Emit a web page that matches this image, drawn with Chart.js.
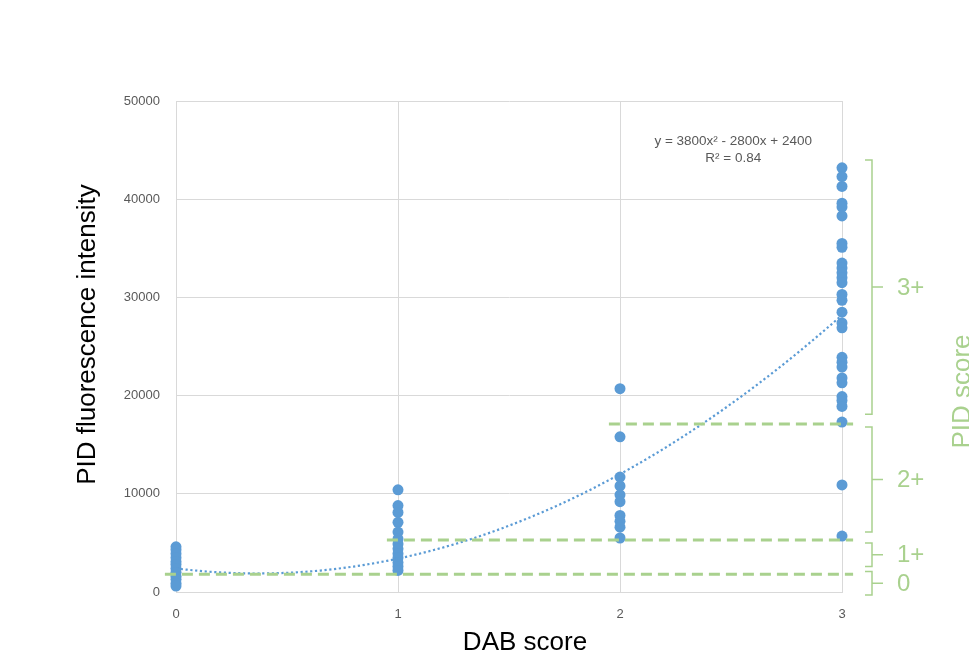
<!DOCTYPE html>
<html>
<head>
<meta charset="utf-8">
<script src="https://cdn.jsdelivr.net/npm/chart.js@4.4.1/dist/chart.umd.min.js"></script>
<style>
  html, body { margin: 0; padding: 0; background: #ffffff; }
  canvas { display: block; }
</style>
</head>
<body>
<canvas id="chart" width="969" height="660"></canvas>
<script>
// DAB score categories on the x axis
const dabScores = [0, 1, 2, 3];
const xTickLabels = ['0', '1', '2', '3'];
const yTickStep = 10000;
const yMax = 50000;

// PID fluorescence intensity measured for each DAB score
const intensityDab0 = [4600, 4300, 3900, 3500, 3100, 2800, 2400, 2000, 1600, 1300, 900, 600];
const intensityDab1 = [10400, 8800, 8100, 7100, 6100, 5400, 4900, 4400, 3900, 3500, 3000, 2600, 2200];
const intensityDab2 = [20700, 15800, 11700, 10800, 9900, 9200, 7800, 7200, 6600, 5500];
const intensityDab3 = [43200, 42300, 41300, 39600, 39200, 38300, 35500, 35100, 33500, 33000,
                       32500, 32000, 31500, 30300, 29700, 28500, 27400, 26900, 23900, 23400,
                       22900, 21800, 21300, 19900, 19500, 18900, 17300, 10900, 5700];

// Quadratic trendline y = a*x^2 + b*x + c
const trendCoefficients = [3800, -2800, 2400];
const rSquared = 0.84;

// PID score cut-offs (dashed lines) and the DAB score where each line starts
const pidThresholds = [1800, 5300, 17100];
const thresholdStartDab = [0, 1, 2];

// PID score bands shown as brackets on the right
const pidScoreLabels = ['0', '1+', '2+', '3+'];
const pidBandLow = [-300, 2600, 6100, 18100];
const pidBandHigh = [2100, 5000, 16800, 44000];

const BLUE = '#5B9BD5';
const GREEN = '#A9D18E';
const GREY_TEXT = '#595959';
const GRID = '#D9D9D9';
const FONT = '"Liberation Sans", Arial, sans-serif';

const intensityGroups = [intensityDab0, intensityDab1, intensityDab2, intensityDab3];
const scatterPoints = [];
intensityGroups.forEach((group, i) => {
  group.forEach(v => scatterPoints.push({ x: dabScores[i], y: v }));
});

const [qa, qb, qc] = trendCoefficients;
const trendPoints = [];
for (let k = 0; k <= 60; k++) {
  const xv = dabScores[0] + (dabScores[dabScores.length - 1] - dabScores[0]) * k / 60;
  trendPoints.push({ x: xv, y: qa * xv * xv + qb * xv + qc });
}

const thresholdDatasets = pidThresholds.map((t, i) => ({
  type: 'line',
  data: [{ x: thresholdStartDab[i] - 0.05, y: t }, { x: dabScores[3] + 0.05, y: t }],
  borderColor: GREEN,
  borderWidth: 3,
  borderDash: [11, 6],
  pointRadius: 0,
  fill: false,
  clip: false,
  order: 1
}));

function fmtCoef(v, first) {
  if (first) return String(v);
  return (v < 0 ? '- ' : '+ ') + Math.abs(v);
}
const equationText = 'y = ' + fmtCoef(qa, true) + 'x\u00B2 ' + fmtCoef(qb) + 'x ' + fmtCoef(qc);
const r2Text = 'R\u00B2 = ' + rSquared.toFixed(2);

const annotationPlugin = {
  id: 'pidAnnotations',
  afterDraw(chart) {
    const { ctx, chartArea, scales: { x, y } } = chart;
    ctx.save();

    // Trendline equation
    ctx.fillStyle = GREY_TEXT;
    ctx.font = '13.5px ' + FONT;
    ctx.textAlign = 'center';
    ctx.textBaseline = 'middle';
    const eqX = x.getPixelForValue(2.51);
    const eqY = y.getPixelForValue(45900);
    ctx.fillText(equationText, eqX, eqY);
    ctx.fillText(r2Text, eqX, eqY + 17);

    // PID score brackets
    const xOpen = chartArea.right + 23;
    const xSpine = chartArea.right + 30;
    const xTick = chartArea.right + 41;
    ctx.strokeStyle = GREEN;
    ctx.lineWidth = 1.5;
    ctx.fillStyle = GREEN;
    ctx.font = '24px ' + FONT;
    ctx.textAlign = 'left';
    ctx.textBaseline = 'middle';
    pidScoreLabels.forEach((lab, i) => {
      const yTop = y.getPixelForValue(pidBandHigh[i]);
      const yBot = y.getPixelForValue(pidBandLow[i]);
      const yMid = (yTop + yBot) / 2;
      ctx.beginPath();
      ctx.moveTo(xOpen, yTop);
      ctx.lineTo(xSpine, yTop);
      ctx.lineTo(xSpine, yBot);
      ctx.lineTo(xOpen, yBot);
      ctx.moveTo(xSpine, yMid);
      ctx.lineTo(xTick, yMid);
      ctx.stroke();
      ctx.fillText(lab, chartArea.right + 55, yMid + 1);
    });

    // Right-hand axis title
    ctx.save();
    ctx.translate(chartArea.right + 128, (chartArea.top + chartArea.bottom) / 2 + 45);
    ctx.rotate(-Math.PI / 2);
    ctx.font = '26px ' + FONT;
    ctx.textAlign = 'center';
    ctx.textBaseline = 'alphabetic';
    ctx.fillText('PID score', 0, 0);
    ctx.restore();

    // Axis titles
    ctx.fillStyle = '#000000';
    ctx.font = '26px ' + FONT;
    ctx.textAlign = 'center';
    ctx.textBaseline = 'alphabetic';
    ctx.fillText('DAB score', (chartArea.left + chartArea.right) / 2 + 16, chartArea.bottom + 58);

    ctx.save();
    ctx.translate(chartArea.left - 81, (chartArea.top + chartArea.bottom) / 2 - 12);
    ctx.rotate(-Math.PI / 2);
    ctx.fillText('PID fluorescence intensity', 0, 0);
    ctx.restore();

    ctx.restore();
  }
};

new Chart(document.getElementById('chart'), {
  type: 'scatter',
  data: {
    datasets: [
      {
        data: scatterPoints,
        backgroundColor: BLUE,
        borderColor: BLUE,
        pointRadius: 5.5,
        pointHoverRadius: 5.5,
        borderWidth: 0,
        clip: false,
        order: 3
      },
      {
        type: 'line',
        data: trendPoints,
        borderColor: BLUE,
        borderWidth: 2.2,
        borderDash: [2.2, 2.6],
        pointRadius: 0,
        fill: false,
        tension: 0,
        order: 2
      },
      ...thresholdDatasets
    ]
  },
  options: {
    responsive: false,
    animation: false,
    devicePixelRatio: 1,
    layout: { padding: { top: 101, right: 127, bottom: 0, left: 0 } },
    plugins: {
      legend: { display: false },
      tooltip: { enabled: false }
    },
    scales: {
      x: {
        type: 'linear',
        min: dabScores[0],
        max: dabScores[dabScores.length - 1],
        afterBuildTicks(scale) {
          scale.ticks = dabScores.map(v => ({ value: v }));
        },
        afterFit(scale) { scale.height = 68; },
        ticks: {
          callback: (v) => xTickLabels[dabScores.indexOf(v)],
          color: GREY_TEXT,
          font: { family: FONT, size: 13 },
          padding: 15,
          maxRotation: 0
        },
        grid: { color: GRID, lineWidth: 1, drawTicks: false },
        border: { color: GRID }
      },
      y: {
        min: 0,
        max: yMax,
        afterFit(scale) { scale.width = 176; },
        ticks: {
          stepSize: yTickStep,
          callback: (v) => String(v),
          color: GREY_TEXT,
          font: { family: FONT, size: 13 },
          padding: 16
        },
        grid: { color: GRID, lineWidth: 1, drawTicks: false },
        border: { color: GRID }
      }
    }
  },
  plugins: [annotationPlugin]
});
</script>
</body>
</html>
